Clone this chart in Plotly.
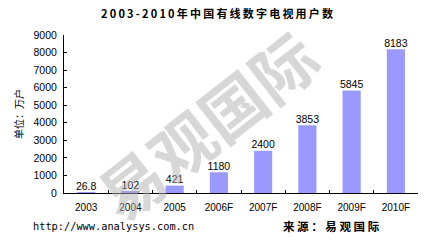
import plotly.graph_objects as go

categories = ["2003", "2004", "2005", "2006F", "2007F", "2008F", "2009F", "2010F"]
values = [26.8, 102, 421, 1180, 2400, 3853, 5845, 8183]
value_labels = ["26.8", "102", "421", "1180", "2400", "3853", "5845", "8183"]
y_ticks = [0, 1000, 2000, 3000, 4000, 5000, 6000, 7000, 8000, 9000]

title_text = "2003-2010年中国有线数字电视用户数"
y_title = "单位：万户"
url_text = "http://www.analysys.com.cn"
source_text = "来源：易观国际"
watermark = "易观国际"

def spaced(s, sep="\u2009"):
    return sep.join(list(s))

fig = go.Figure()
fig.add_trace(go.Bar(
    x=categories, y=values,
    marker=dict(color="#9999FF", line=dict(width=0)),
    width=0.41, hoverinfo="skip",
))
fig.add_trace(go.Scatter(
    x=categories, y=values, text=value_labels, mode="text",
    textposition="top center", cliponaxis=False,
    textfont=dict(family="Liberation Sans, Arial", size=10.5, color="#000000"),
))

W, H = 431, 241
L, R, T, B = 64, 13, 35, 48
pw = W - L - R
ph = H - T - B

def px_x(x):
    return (x - L) / pw

def px_y(y):
    return (H - B - y) / ph

fig.update_layout(
    width=W, height=H,
    margin=dict(l=L, r=R, t=T, b=B),
    paper_bgcolor="white", plot_bgcolor="white",
    showlegend=False,
    font=dict(family="Liberation Sans, Arial", size=10, color="#000000"),
    xaxis=dict(
        showline=True, linecolor="#000000", linewidth=1,
        ticks="inside", ticklen=3, tickcolor="#000000", tickson="boundaries",
        showgrid=False, tickfont=dict(size=10), ticklabelstandoff=5,
    ),
    yaxis=dict(
        range=[0, 9000], tickvals=y_ticks,
        showline=True, linecolor="#000000", linewidth=1,
        ticks="inside", ticklen=3, tickcolor="#000000",
        showgrid=False, zeroline=False, tickfont=dict(size=10.5), ticklabelstandoff=4,
        title=dict(text=y_title, font=dict(family="Noto Sans CJK SC", size=10), standoff=8),
    ),
    annotations=[
        dict(text="<b>" + spaced(title_text) + "</b>", x=px_x(217), y=px_y(13), xref="paper", yref="paper",
             xanchor="center", yanchor="middle", showarrow=False,
             font=dict(family="Noto Sans CJK SC", size=11, color="#000000")),
        dict(text=url_text, x=px_x(31), y=px_y(226), xref="paper", yref="paper",
             showarrow=False, xanchor="left", yanchor="middle",
             font=dict(family="DejaVu Sans Mono", size=10.3, color="#000000")),
        dict(text="<b>" + spaced(source_text, " ") + "</b>", x=px_x(281), y=px_y(226), xref="paper", yref="paper",
             showarrow=False, xanchor="left", yanchor="middle",
             font=dict(family="Noto Sans CJK SC", size=11.5, color="#000000")),
        dict(text="<b>" + watermark + "</b>", x=px_x(206), y=px_y(124), xref="paper", yref="paper",
             showarrow=False, xanchor="center", yanchor="middle", textangle=-38,
             font=dict(family="Noto Sans CJK SC", size=64, color="rgba(175,175,175,0.5)")),
    ],
)

fig.write_html("out.html")
